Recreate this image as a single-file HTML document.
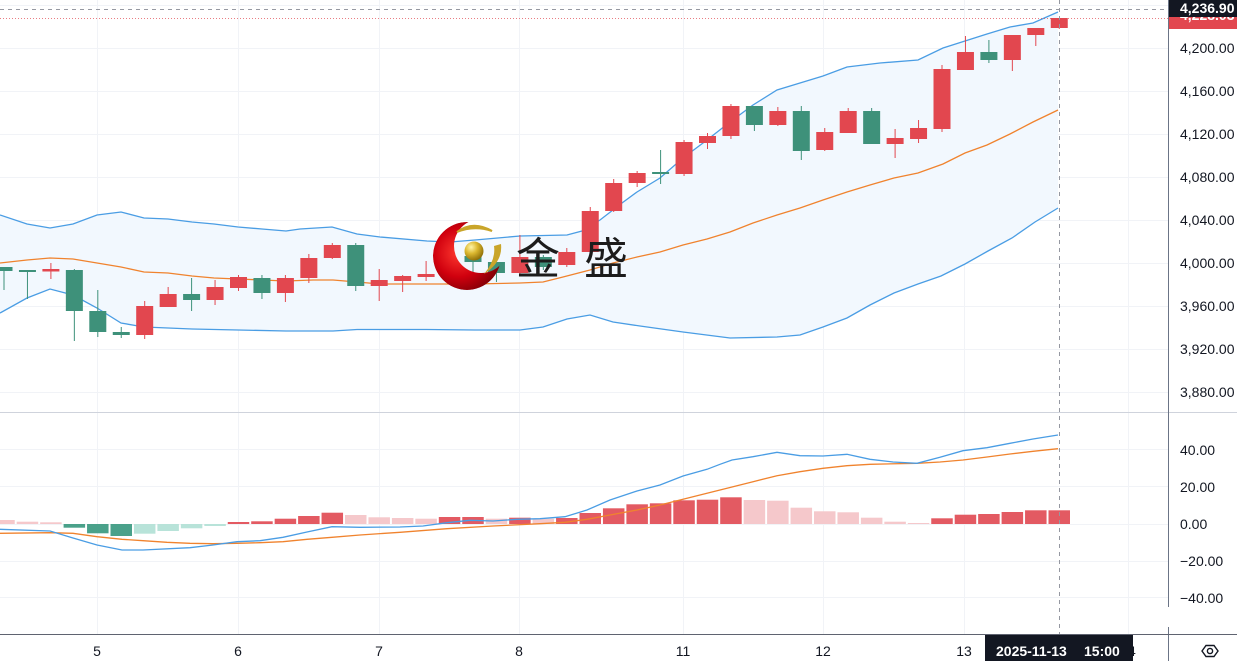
<!DOCTYPE html>
<html>
<head>
<meta charset="utf-8">
<style>
html,body{margin:0;padding:0;background:#fff;overflow:hidden;}
svg{display:block;}
text{font-family:"Liberation Sans","Noto Sans CJK SC",sans-serif;}
</style>
</head>
<body>
<svg width="1237" height="661" viewBox="0 0 1237 661" xmlns="http://www.w3.org/2000/svg">
<defs>
  <radialGradient id="rg" cx="0.38" cy="0.45" r="0.65">
    <stop offset="0" stop-color="#ff3a30"/>
    <stop offset="0.55" stop-color="#d0000e"/>
    <stop offset="1" stop-color="#7a0006"/>
  </radialGradient>
  <radialGradient id="gg" cx="0.35" cy="0.3" r="0.75">
    <stop offset="0" stop-color="#fff5a8"/>
    <stop offset="0.45" stop-color="#dcb830"/>
    <stop offset="1" stop-color="#8a6a05"/>
  </radialGradient>
  <mask id="cm">
    <rect x="420" y="210" width="100" height="100" fill="#000"/>
    <circle cx="467" cy="256" r="34" fill="#fff"/>
    <circle cx="481" cy="246" r="27" fill="#000"/>
  </mask>
</defs>
<rect x="0" y="0" width="1237" height="661" fill="#fff"/>

<!-- grid -->
<g stroke="#f1f3f7" stroke-width="1">
  <line x1="97.5" y1="0" x2="97.5" y2="634"/>
  <line x1="238.5" y1="0" x2="238.5" y2="634"/>
  <line x1="379.5" y1="0" x2="379.5" y2="634"/>
  <line x1="519.5" y1="0" x2="519.5" y2="634"/>
  <line x1="683.5" y1="0" x2="683.5" y2="634"/>
  <line x1="823.5" y1="0" x2="823.5" y2="634"/>
  <line x1="964.5" y1="0" x2="964.5" y2="634"/>
  <line x1="1128.5" y1="0" x2="1128.5" y2="634"/>
  <line x1="0" y1="5.5" x2="1168" y2="5.5"/>
  <line x1="0" y1="48.5" x2="1168" y2="48.5"/>
  <line x1="0" y1="91.5" x2="1168" y2="91.5"/>
  <line x1="0" y1="134.5" x2="1168" y2="134.5"/>
  <line x1="0" y1="177.5" x2="1168" y2="177.5"/>
  <line x1="0" y1="220.5" x2="1168" y2="220.5"/>
  <line x1="0" y1="263.5" x2="1168" y2="263.5"/>
  <line x1="0" y1="306.5" x2="1168" y2="306.5"/>
  <line x1="0" y1="349.5" x2="1168" y2="349.5"/>
  <line x1="0" y1="392.5" x2="1168" y2="392.5"/>
  <line x1="0" y1="449.5" x2="1168" y2="449.5"/>
  <line x1="0" y1="486.5" x2="1168" y2="486.5"/>
  <line x1="0" y1="524.5" x2="1168" y2="524.5"/>
  <line x1="0" y1="561.5" x2="1168" y2="561.5"/>
  <line x1="0" y1="597.5" x2="1168" y2="597.5"/>
</g>

<!-- Bollinger fill -->
<polygon fill="#f2f8fe" points="0,215 27,224 50,228 73,224 97,215 121,212 144,218 168,219 192,222 214,224 238,227 262,229 286,231 300,229 332,227 357,234 380,237 427,241 450,242 475,240 520,236 567,235 582,231 600,220 622,203 637,192 660,178 683,158 707,140 730,122 753,105 777,90 800,83 823,76 847,67 880,63 918,60 943,48 965,41 987,34 1010,27 1033,23 1058,12 1058,208 1035,222 1012,238 988,251 965,264 941,276 918,284 894,293 870,305 847,318 823,327 800,335 777,337 730,338 683,332 640,326 613,322 590,315 567,319 543,327 520,330 475,330 427,329.5 357,329.5 333,331 286,331 238,330 192,329 168,328 144,327 121,323 97,308 73,295 50,289 27,298 0,313"/>

<!-- Bollinger lines -->
<polyline fill="none" stroke="#4a9de4" stroke-width="1.3" points="0,215 27,224 50,228 73,224 97,215 121,212 144,218 168,219 192,222 214,224 238,227 262,229 286,231 300,229 332,227 357,234 380,237 427,241 450,242 475,240 520,236 567,235 582,231 600,220 622,203 637,192 660,178 683,158 707,140 730,122 753,105 777,90 800,83 823,76 847,67 880,63 918,60 943,48 965,41 987,34 1010,27 1033,23 1058,12"/>
<polyline fill="none" stroke="#4a9de4" stroke-width="1.3" points="0,313 27,298 50,289 73,295 97,308 121,323 144,327 168,328 192,329 238,330 286,331 333,331 357,329.5 427,329.5 475,330 520,330 543,327 567,319 590,315 613,322 640,326 683,332 730,338 777,337 800,335 823,327 847,318 870,305 894,293 918,284 941,276 965,264 988,251 1012,238 1035,222 1058,208"/>
<polyline fill="none" stroke="#f0832e" stroke-width="1.3" points="0,263 27,260 50,258 73,259 97,263 121,267 144,272 168,273 192,276 214,278 238,279 262,280 286,281 313,280 333,280 357,282 380,284 427,284 475,284 520,283 543,282 563,277 590,270 613,263 637,257 660,252 683,245 707,239 730,232 753,223 777,215 800,208 823,200 847,192 870,185 894,178 918,173 943,164 965,153 987,145 1010,134 1033,122 1058,110"/>

<!-- candles -->
<g stroke-width="1">
<g fill="#3e917a" stroke="#3e917a">
  <line x1="4" y1="267" x2="4" y2="290"/><rect x="-4.5" y="267" width="17" height="4" stroke="none"/>
  <line x1="27.45" y1="270" x2="27.45" y2="299"/><rect x="18.95" y="270" width="17" height="2" stroke="none"/>
  <line x1="74.35" y1="269" x2="74.35" y2="341"/><rect x="65.85" y="270" width="17" height="41" stroke="none"/>
  <line x1="97.8" y1="290" x2="97.8" y2="337"/><rect x="89.3" y="311" width="17" height="21" stroke="none"/>
  <line x1="121.25" y1="327" x2="121.25" y2="338"/><rect x="112.75" y="332" width="17" height="3" stroke="none"/>
  <line x1="191.6" y1="278" x2="191.6" y2="311"/><rect x="183.1" y="294" width="17" height="6" stroke="none"/>
  <line x1="261.95" y1="275" x2="261.95" y2="299"/><rect x="253.45" y="278" width="17" height="15" stroke="none"/>
  <line x1="355.75" y1="243" x2="355.75" y2="291"/><rect x="347.25" y="245" width="17" height="41" stroke="none"/>
  <line x1="473" y1="254" x2="473" y2="272"/><rect x="464.5" y="256" width="17" height="6" stroke="none"/>
  <line x1="496.45" y1="258" x2="496.45" y2="282"/><rect x="487.95" y="262" width="17" height="11" stroke="none"/>
  <line x1="543.35" y1="255" x2="543.35" y2="270"/><rect x="534.85" y="257" width="17" height="10" stroke="none"/>
  <line x1="660.6" y1="150" x2="660.6" y2="184"/><rect x="652.1" y="172" width="17" height="2" stroke="none"/>
  <line x1="754.4" y1="106" x2="754.4" y2="131"/><rect x="745.9" y="106" width="17" height="19" stroke="none"/>
  <line x1="801.3" y1="106" x2="801.3" y2="160"/><rect x="792.8" y="111" width="17" height="40" stroke="none"/>
  <line x1="871.65" y1="108" x2="871.65" y2="144"/><rect x="863.15" y="111" width="17" height="33" stroke="none"/>
  <line x1="988.9" y1="40" x2="988.9" y2="63"/><rect x="980.4" y="52" width="17" height="8" stroke="none"/>
</g>
<g fill="#e2474f" stroke="#e2474f">
  <line x1="50.9" y1="263" x2="50.9" y2="279"/><rect x="42.4" y="269" width="17" height="2.5" stroke="none"/>
  <line x1="144.7" y1="301" x2="144.7" y2="339"/><rect x="136.2" y="306" width="17" height="29" stroke="none"/>
  <line x1="168.15" y1="287" x2="168.15" y2="307"/><rect x="159.65" y="294" width="17" height="13" stroke="none"/>
  <line x1="215.05" y1="280" x2="215.05" y2="305"/><rect x="206.55" y="287" width="17" height="13" stroke="none"/>
  <line x1="238.5" y1="275" x2="238.5" y2="291"/><rect x="230" y="277" width="17" height="11" stroke="none"/>
  <line x1="285.4" y1="275" x2="285.4" y2="302"/><rect x="276.9" y="278" width="17" height="15" stroke="none"/>
  <line x1="308.85" y1="254" x2="308.85" y2="283"/><rect x="300.35" y="258" width="17" height="20" stroke="none"/>
  <line x1="332.3" y1="243" x2="332.3" y2="259"/><rect x="323.8" y="245" width="17" height="13" stroke="none"/>
  <line x1="379.2" y1="269" x2="379.2" y2="301"/><rect x="370.7" y="280" width="17" height="6" stroke="none"/>
  <line x1="402.65" y1="275" x2="402.65" y2="292"/><rect x="394.15" y="276" width="17" height="5" stroke="none"/>
  <line x1="426.1" y1="261" x2="426.1" y2="281"/><rect x="417.6" y="274" width="17" height="3" stroke="none"/>
  <line x1="449.55" y1="262" x2="449.55" y2="282"/><rect x="441.05" y="268" width="17" height="6" stroke="none"/>
  <line x1="519.9" y1="235" x2="519.9" y2="275"/><rect x="511.4" y="257" width="17" height="16" stroke="none"/>
  <line x1="566.8" y1="248" x2="566.8" y2="267"/><rect x="558.3" y="252" width="17" height="13" stroke="none"/>
  <line x1="590.25" y1="207" x2="590.25" y2="253"/><rect x="581.75" y="211" width="17" height="41" stroke="none"/>
  <line x1="613.7" y1="179" x2="613.7" y2="212"/><rect x="605.2" y="183" width="17" height="28" stroke="none"/>
  <line x1="637.15" y1="171" x2="637.15" y2="187"/><rect x="628.65" y="173" width="17" height="10" stroke="none"/>
  <line x1="684.05" y1="140" x2="684.05" y2="176"/><rect x="675.55" y="142" width="17" height="32" stroke="none"/>
  <line x1="707.5" y1="133" x2="707.5" y2="149"/><rect x="699" y="136" width="17" height="7" stroke="none"/>
  <line x1="730.95" y1="104" x2="730.95" y2="139"/><rect x="722.45" y="106" width="17" height="30" stroke="none"/>
  <line x1="777.85" y1="107" x2="777.85" y2="126"/><rect x="769.35" y="111" width="17" height="14" stroke="none"/>
  <line x1="824.75" y1="128" x2="824.75" y2="151"/><rect x="816.25" y="132" width="17" height="18" stroke="none"/>
  <line x1="848.2" y1="108" x2="848.2" y2="133"/><rect x="839.7" y="111" width="17" height="22" stroke="none"/>
  <line x1="895.1" y1="129" x2="895.1" y2="158"/><rect x="886.6" y="138" width="17" height="6" stroke="none"/>
  <line x1="918.55" y1="120" x2="918.55" y2="143"/><rect x="910.05" y="128" width="17" height="11" stroke="none"/>
  <line x1="942" y1="65" x2="942" y2="132"/><rect x="933.5" y="69" width="17" height="60" stroke="none"/>
  <line x1="965.45" y1="36" x2="965.45" y2="70"/><rect x="956.95" y="52" width="17" height="18" stroke="none"/>
  <line x1="1012.35" y1="35" x2="1012.35" y2="71"/><rect x="1003.85" y="35" width="17" height="25" stroke="none"/>
  <line x1="1035.8" y1="28" x2="1035.8" y2="46"/><rect x="1027.3" y="28" width="17" height="7" stroke="none"/>
  <line x1="1059.25" y1="18" x2="1059.25" y2="29"/><rect x="1050.75" y="18" width="17" height="10" stroke="none"/>
</g>
</g>

<!-- logo -->
<g>
  <circle cx="467" cy="256" r="34" fill="url(#rg)" mask="url(#cm)"/>
  <path d="M457,232 Q473,220 492,231 Q474,225 457,232 Z" fill="#c9a52a" stroke="#c9a52a" stroke-width="2"/>
  <path d="M501,244 Q503,262 484,274 Q496,260 494,246 Z" fill="#c9a52a"/>
  <circle cx="474" cy="251" r="9.5" fill="url(#gg)"/>
  <text x="516" y="274" font-size="44" fill="#1c1c1c" style="font-family:'Noto Sans CJK SC','WenQuanYi Zen Hei',sans-serif">金</text>
  <text x="584" y="274" font-size="44" fill="#1c1c1c" style="font-family:'Noto Sans CJK SC','WenQuanYi Zen Hei',sans-serif">盛</text>
</g>

<!-- pane separator -->
<line x1="0" y1="412.5" x2="1237" y2="412.5" stroke="#cfd3dc" stroke-width="1"/>

<!-- MACD histogram -->
<g fill="#f5c8cb">
  <rect x="-6.75" y="520" width="21.5" height="4"/>
  <rect x="16.7" y="521.7" width="21.5" height="2.3"/>
  <rect x="40.15" y="522.3" width="21.5" height="1.7"/>
  <rect x="345" y="515" width="21.5" height="9"/>
  <rect x="368.45" y="517.3" width="21.5" height="6.7"/>
  <rect x="391.9" y="518" width="21.5" height="6"/>
  <rect x="415.35" y="518.7" width="21.5" height="5.3"/>
  <rect x="485.7" y="518.7" width="21.5" height="5.3"/>
  <rect x="532.6" y="518.7" width="21.5" height="5.3"/>
  <rect x="743.65" y="500" width="21.5" height="24"/>
  <rect x="767.1" y="500.7" width="21.5" height="23.3"/>
  <rect x="790.55" y="507.7" width="21.5" height="16.3"/>
  <rect x="814" y="511.3" width="21.5" height="12.7"/>
  <rect x="837.45" y="512.3" width="21.5" height="11.7"/>
  <rect x="860.9" y="517.7" width="21.5" height="6.3"/>
  <rect x="884.35" y="521.7" width="21.5" height="2.3"/>
  <rect x="907.8" y="523" width="21.5" height="1"/>
</g>
<g fill="#e35a62">
  <rect x="227.75" y="522" width="21.5" height="2"/>
  <rect x="251.2" y="521.3" width="21.5" height="2.7"/>
  <rect x="274.65" y="518.7" width="21.5" height="5.3"/>
  <rect x="298.1" y="516" width="21.5" height="8"/>
  <rect x="321.55" y="512.7" width="21.5" height="11.3"/>
  <rect x="438.8" y="517" width="21.5" height="7"/>
  <rect x="462.25" y="517" width="21.5" height="7"/>
  <rect x="509.15" y="517.7" width="21.5" height="6.3"/>
  <rect x="556.05" y="518" width="21.5" height="6"/>
  <rect x="579.5" y="513" width="21.5" height="11"/>
  <rect x="602.95" y="508.3" width="21.5" height="15.7"/>
  <rect x="626.4" y="504.3" width="21.5" height="19.7"/>
  <rect x="649.85" y="503.3" width="21.5" height="20.7"/>
  <rect x="673.3" y="500.3" width="21.5" height="23.7"/>
  <rect x="696.75" y="499.7" width="21.5" height="24.3"/>
  <rect x="720.2" y="497.3" width="21.5" height="26.7"/>
  <rect x="931.25" y="518.3" width="21.5" height="5.7"/>
  <rect x="954.7" y="514.7" width="21.5" height="9.3"/>
  <rect x="978.15" y="514" width="21.5" height="10"/>
  <rect x="1001.6" y="512" width="21.5" height="12"/>
  <rect x="1025.05" y="510.3" width="21.5" height="13.7"/>
  <rect x="1048.5" y="510.3" width="21.5" height="13.7"/>
</g>
<g fill="#4aa18a">
  <rect x="63.6" y="524" width="21.5" height="3.7"/>
  <rect x="87.05" y="524" width="21.5" height="9.3"/>
  <rect x="110.5" y="524" width="21.5" height="12"/>
</g>
<g fill="#b8e3d9">
  <rect x="133.95" y="524" width="21.5" height="9.7"/>
  <rect x="157.4" y="524" width="21.5" height="7"/>
  <rect x="180.85" y="524" width="21.5" height="4.3"/>
  <rect x="204.3" y="524" width="21.5" height="2"/>
</g>

<!-- MACD lines -->
<polyline fill="none" stroke="#f0832e" stroke-width="1.3" points="0,533.3 50,532.7 73,533.3 97,536.7 122,539.3 143,540.7 167,542.3 190,543.3 213,543.7 237,543.3 260,542.7 283,541.7 307,539.3 332,537.3 360,535 400,532.3 447,528.7 493,526 540,523.7 565,522.3 587,519.3 610,515 637,510 660,505 683,499.3 707,493.3 720,490 753,481.7 777,475.7 800,471.7 823,468.3 847,465.7 870,464.3 917,463.3 940,462 963,460 987,457 1010,454 1033,451.3 1058,448.7"/>
<polyline fill="none" stroke="#4a9de4" stroke-width="1.3" points="0,529.3 50,531 73,538 97,545 122,550 143,550 190,547.7 213,545 237,541.7 260,540.7 283,537.3 307,532 332,526.7 360,527.3 400,527 423,526 447,522.7 470,520.3 493,521 517,519.3 540,518.7 565,516.7 587,510 610,500 637,491 660,485 683,476 707,469.3 720,464.3 732,460 753,456.7 777,452.3 800,455.7 823,456 847,454.3 870,459.3 893,462 917,463.3 940,457.3 963,450.7 987,447.7 1010,443.3 1033,439 1058,435"/>

<!-- crosshair & price line -->
<line x1="0" y1="18.5" x2="1168" y2="18.5" stroke="#e2474f" stroke-width="1" stroke-dasharray="1,2" opacity="0.7"/>
<line x1="0" y1="9.5" x2="1168" y2="9.5" stroke="#9598a1" stroke-width="1" stroke-dasharray="4,4"/>
<line x1="1059.5" y1="0" x2="1059.5" y2="634" stroke="#9598a1" stroke-width="1" stroke-dasharray="4,4"/>

<!-- axes lines -->
<line x1="1168.5" y1="0" x2="1168.5" y2="607" stroke="#6b7486" stroke-width="1"/>
<line x1="1168.5" y1="627" x2="1168.5" y2="661" stroke="#6b7486" stroke-width="1"/>
<line x1="0" y1="634.5" x2="1237" y2="634.5" stroke="#5f6370" stroke-width="1"/>

<!-- price axis labels -->
<g font-size="14" fill="#131722">
  <text x="1180" y="53">4,200.00</text>
  <text x="1180" y="96">4,160.00</text>
  <text x="1180" y="139">4,120.00</text>
  <text x="1180" y="182">4,080.00</text>
  <text x="1180" y="225">4,040.00</text>
  <text x="1180" y="268">4,000.00</text>
  <text x="1180" y="311">3,960.00</text>
  <text x="1180" y="354">3,920.00</text>
  <text x="1180" y="397">3,880.00</text>
  <text x="1180" y="455">40.00</text>
  <text x="1180" y="492">20.00</text>
  <text x="1180" y="529">0.00</text>
  <text x="1180" y="566">−20.00</text>
  <text x="1180" y="603">−40.00</text>
</g>
<rect x="1169" y="8" width="68" height="21" fill="#e2474f"/>
<text x="1180" y="20" font-size="14" fill="#fff" font-weight="bold">4,228.03</text>
<rect x="1169" y="-2" width="68" height="19" fill="#131722"/>
<text x="1180" y="13" font-size="14" fill="#fff" font-weight="bold">4,236.90</text>

<!-- time axis labels -->
<g font-size="14" fill="#131722" text-anchor="middle">
  <text x="97" y="656">5</text>
  <text x="238" y="656">6</text>
  <text x="379" y="656">7</text>
  <text x="519" y="656">8</text>
  <text x="683" y="656">11</text>
  <text x="823" y="656">12</text>
  <text x="964" y="656">13</text>
  <text x="1128" y="656">14</text>
</g>
<rect x="985" y="635" width="148" height="26" fill="#131722"/>
<text x="996" y="656" font-size="14" fill="#fff" font-weight="bold">2025-11-13</text>
<text x="1084" y="656" font-size="14" fill="#fff" font-weight="bold">15:00</text>

<!-- settings icon -->
<g fill="none" stroke="#131722" stroke-width="1.4">
  <polygon points="1202,651 1206,645.5 1214,645.5 1218,651 1214,656.5 1206,656.5"/>
  <circle cx="1210" cy="651" r="2.6"/>
</g>
</svg>
</body>
</html>
